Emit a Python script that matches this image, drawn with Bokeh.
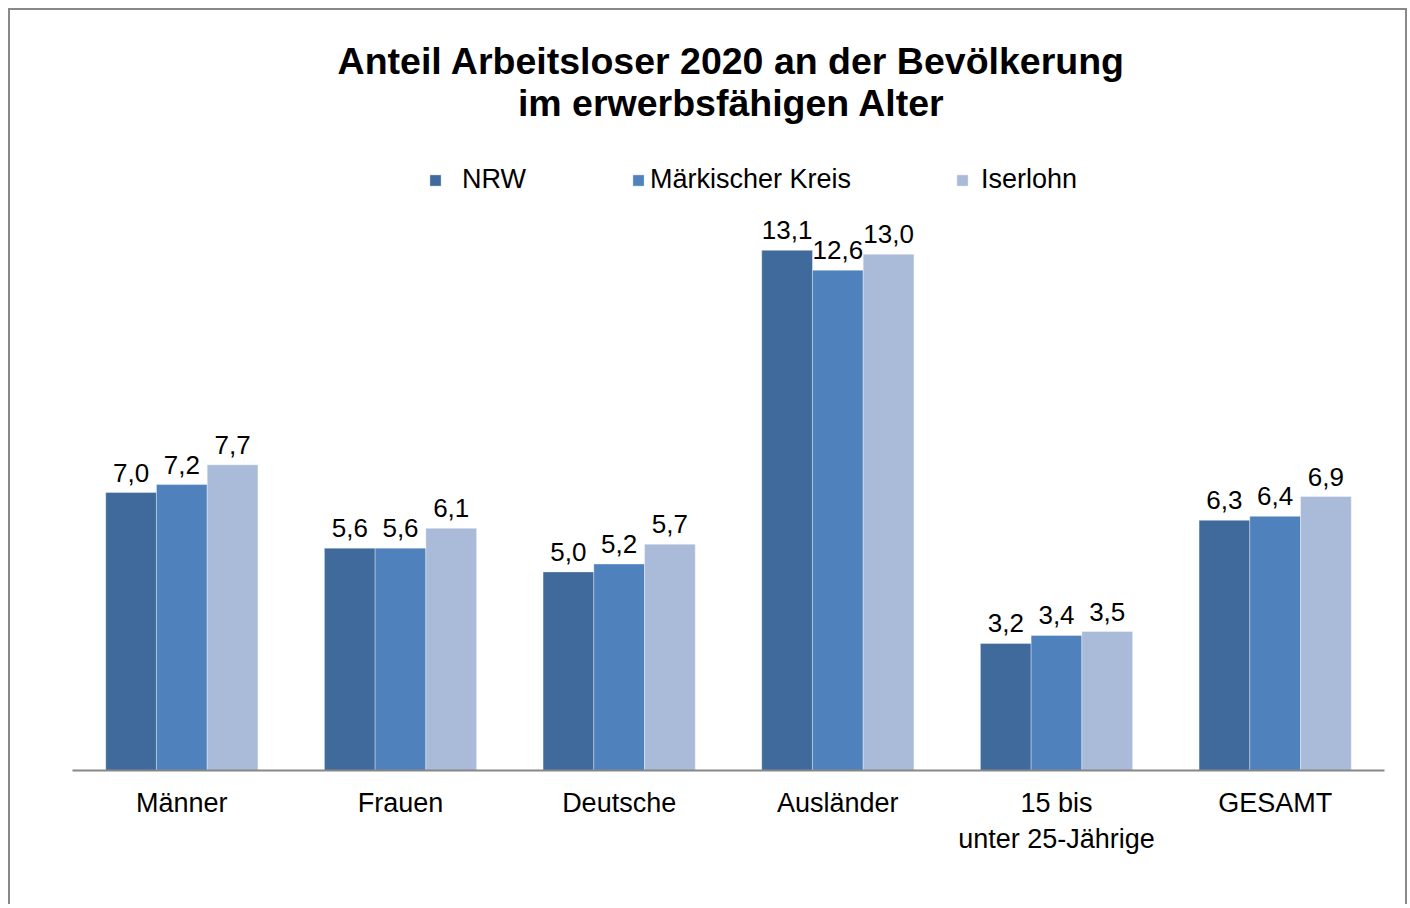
from bokeh.plotting import figure
from bokeh.models import ColumnDataSource, FactorRange, Range1d, Legend, LegendItem, Label
from bokeh.transform import dodge
from bokeh.core.properties import value
from bokeh.embed import file_html
from bokeh.resources import INLINE

categories = ["Männer", "Frauen", "Deutsche", "Ausländer", "15 bis\nunter 25-Jährige", "GESAMT"]
series = ["NRW", "Märkischer Kreis", "Iserlohn"]
nrw = [7.0, 5.6, 5.0, 13.1, 3.2, 6.3]
mk = [7.2, 5.6, 5.2, 12.6, 3.4, 6.4]
iserlohn = [7.7, 6.1, 5.7, 13.0, 3.5, 6.9]
colors = ["#3F6A9B", "#4F81BD", "#AABBD9"]
title_lines = ["Anteil Arbeitsloser 2020 an der Bevölkerung", "im erwerbsfähigen Alter"]

FONT = "Liberation Sans"

def fmt(vals):
    return [f"{v:.1f}".replace(".", ",") for v in vals]

src = ColumnDataSource(dict(
    cat=categories,
    nrw=nrw, mk=mk, isl=iserlohn,
    nrw_t=fmt(nrw), mk_t=fmt(mk), isl_t=fmt(iserlohn),
))

p = figure(width=1399, height=896, x_range=FactorRange(*categories, range_padding=0),
           y_range=Range1d(0, 19.14), output_backend="svg", toolbar_location=None,
           min_border_left=62, min_border_right=25, min_border_top=0, min_border_bottom=136)
p.styles = {"border": "2px solid #898989", "border-bottom": "none", "margin": "8px 0 0 8px"}
p.outline_line_color = None
p.xgrid.visible = False
p.ygrid.visible = False
p.yaxis.visible = False
p.title = None

# two-line centred chart title
mid = len(categories) / 2
for txt, yv in zip(title_lines, [17.88, 16.80]):
    p.add_layout(Label(x=mid, y=yv, text=txt, text_align="center", text_baseline="middle",
                       x_offset=3, text_font=FONT, text_font_size="37.5px",
                       text_font_style="bold", text_color="black"))

w = 0.232
offsets = [-w, 0.0, w]
fields = ["nrw", "mk", "isl"]
renderers = []
for off, f, c in zip(offsets, fields, colors):
    r = p.vbar(x=dodge("cat", off, range=p.x_range), top=f, width=w, source=src,
               fill_color=c, line_color="white", line_alpha=0.35, line_width=1)
    renderers.append(r)
    p.text(x=dodge("cat", off, range=p.x_range), y=f, text=f + "_t", source=src,
           text_align="center", text_baseline="bottom", y_offset=-11,
           text_font=value(FONT), text_font_size="26px", text_color="black")

ax = p.xaxis[0]
ax.axis_line_color = "#878787"
ax.axis_line_width = 2
ax.major_tick_line_color = None
ax.minor_tick_line_color = None
ax.major_label_text_font = FONT
ax.major_label_text_font_size = "27px"
ax.major_label_text_color = "black"
ax.major_label_standoff = 11

leg_pos = [(356, 575), (559, 575), (883, 575)]
standoffs = [20, 5, 12]
for name, r, pos, so in zip(series, renderers, leg_pos, standoffs):
    lg = Legend(items=[LegendItem(label=name, renderers=[r])], location=pos,
                orientation="horizontal", padding=0, margin=0, spacing=0,
                glyph_width=14, glyph_height=14, label_standoff=so, label_height=30,
                label_text_font=FONT, label_text_font_size="27px", label_text_color="black",
                border_line_color=None, background_fill_alpha=0)
    p.add_layout(lg)

open("out.html", "w").write(file_html(p, INLINE))
